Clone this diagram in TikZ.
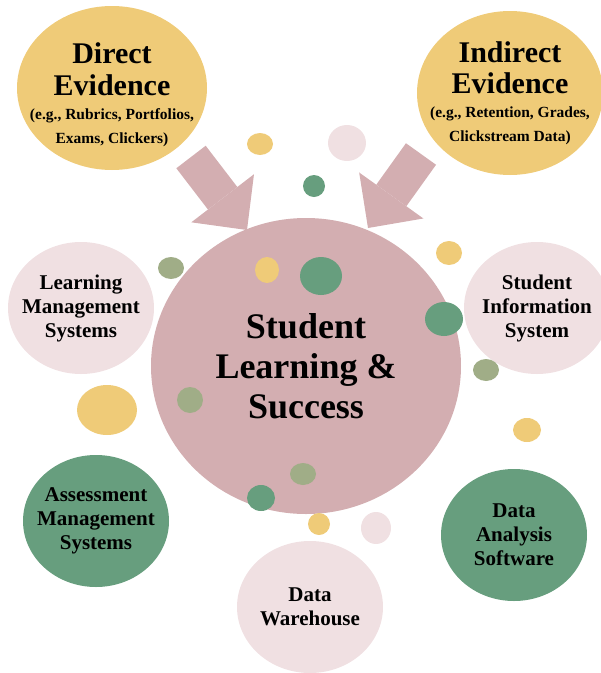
\documentclass[tikz,border=0pt]{standalone}
\usepackage{fontspec}
\setmainfont{Liberation Serif}
\usetikzlibrary{shapes.geometric, arrows.meta}
\definecolor{gold}{RGB}{239,203,120}
\definecolor{mauve}{RGB}{211,174,177}
\definecolor{blush}{RGB}{240,224,226}
\definecolor{sage}{RGB}{103,158,126}
\definecolor{moss}{RGB}{160,173,135}
\tikzset{
	bubble/.style={ellipse, inner sep=0pt, minimum width=146pt, minimum height=132pt},
	words/.style={align=center, font=\bfseries\fontsize{21}{24}\selectfont},
	dot/.style={ellipse, inner sep=0pt},
	fat/.style={mauve, line width=37pt, -{Triangle[width=79pt, length=40pt, line width=0pt]}}
}
\begin{document}
\begin{tikzpicture}[x=1pt, y=-1pt]
	\useasboundingbox (0, 0) rectangle (601, 673);
	\node[bubble, fill=mauve, minimum width=310pt, minimum height=296pt, label={[words, font=\bfseries\fontsize{36}{40}\selectfont]center:{Student\\Learning \&\\Success}}] (core) at (306, 366) {};
	\node[bubble, fill=gold, minimum width=190pt, minimum height=164pt, label={[words, yshift=-7pt]center:{\fontsize{30}{32}\selectfont Direct\\[8pt]\fontsize{30}{32}\selectfont Evidence\\\fontsize{15.5}{24}\selectfont (e.g., Rubrics, Portfolios,\\\fontsize{15.5}{24}\selectfont Exams, Clickers)}}] (direct) at (112, 88) {};
	\node[bubble, fill=gold, minimum width=186pt, minimum height=164pt, label={[words]center:{\fontsize{30}{32}\selectfont Indirect\\[7pt]\fontsize{30}{32}\selectfont Evidence\\\fontsize{15.5}{24}\selectfont (e.g., Retention, Grades,\\\fontsize{15.5}{24}\selectfont Clickstream Data)}}] (indirect) at (510, 93) {};
	\node[bubble, fill=blush, label={[words]center:{Learning\\Management\\Systems}}] (lms) at (81, 308) {};
	\node[bubble, fill=blush, label={[words]center:{Student\\Information\\System}}] (sis) at (537, 308) {};
	\node[bubble, fill=sage, label={[words]center:{Assessment\\Management\\Systems}}] (ams) at (96, 521) {};
	\node[bubble, fill=blush, label={[words]center:{Data\\Warehouse}}] (dw) at (310, 607) {};
	\node[bubble, fill=sage, label={[words]center:{Data\\Analysis\\Software}}] (das) at (514, 535) {};
	\foreach \x/\y/\w/\h/\c [count=\i] in {260/144/26/22/gold, 347/143/38/36/blush, 314/186/22/22/sage,
		449/253/26/24/gold, 171/268/26/22/moss, 267/270/24/26/gold, 321/276/42/38/sage,
		444/319/38/34/sage, 486/370/26/22/moss, 107/410/60/50/gold, 190/400/26/26/moss,
		527/430/28/24/gold, 303/474/26/22/moss, 261/498/28/26/sage, 319/524/22/22/gold,
		376/528/30/32/blush}
		\node[dot, fill=\c, minimum width=\w pt, minimum height=\h pt] (dot\i) at (\x, \y) {};
	\coordinate (tailL) at (191, 157);
	\coordinate (tipL) at (247, 230);
	\coordinate (tailR) at (421, 154);
	\coordinate (tipR) at (368, 228);
	\draw[fat] (tailL) -- (tipL);
	\draw[fat] (tailR) -- (tipR);
\end{tikzpicture}
\end{document}
